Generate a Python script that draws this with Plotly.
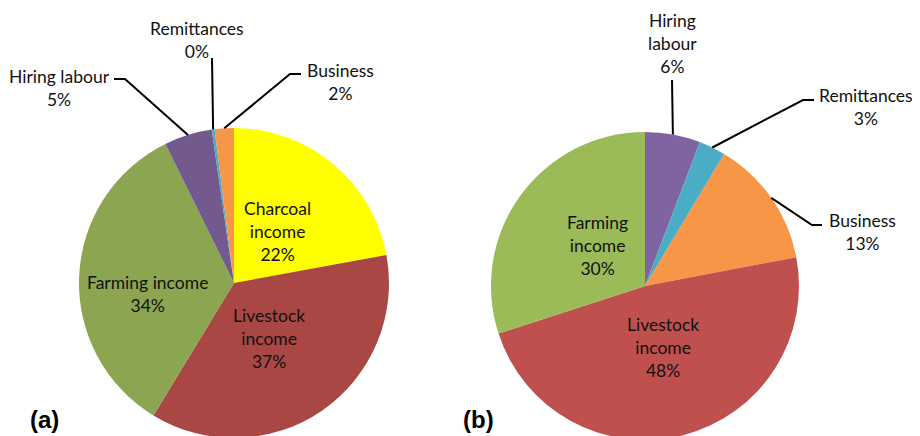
import math
import plotly.graph_objects as go

# ---------------- data ----------------
cats_a = ["Charcoal income", "Livestock income", "Farming income",
          "Hiring labour", "Remittances", "Business"]
vals_a = [22.1, 36.6, 34.0, 5.0, 0.3, 2.0]
colors_a = ["#FFFF00", "#A94744", "#8BA550", "#725A8E", "#4AACC6", "#F79646"]

cats_b = ["Hiring labour", "Remittances", "Business",
          "Livestock income", "Farming income"]
vals_b = [5.8, 2.8, 13.4, 48.0, 30.0]
colors_b = ["#8064A2", "#4BACC6", "#F79646", "#C0504D", "#9BBB59"]

# ---------------- layout constants (pixels, page coords) ----------------
W, H = 920, 436
OFF = 8  # default page body margin
FONT = "Lato, Carlito, Calibri, sans-serif"
FS = 17.5

# pie geometry: (center x, center y from top, radius)
pie_a = (234, 283, 155)
pie_b = (645, 286, 154)

# label placement: display text (line breaks), text-center position
lab_a = {
    "Charcoal income": ("Charcoal<br>income", 277, 231),
    "Livestock income": ("Livestock<br>income", 269, 338),
    "Farming income": ("Farming income", 147, 294),
    "Hiring labour": ("Hiring labour", 59, 88),
    "Remittances": ("Remittances", 197, 40),
    "Business": ("Business", 340, 82),
}
lab_b = {
    "Hiring labour": ("Hiring<br>labour", 672, 44),
    "Remittances": ("Remittances", 866, 107),
    "Business": ("Business", 862, 232),
    "Livestock income": ("Livestock<br>income", 663, 347),
    "Farming income": ("Farming<br>income", 597, 245),
}
# leader lines: text-side start point, elbow point (None = straight)
lead_a = {
    "Hiring labour": ((114, 79), (125, 79)),
    "Remittances": ((212, 58), None),
    "Business": ((301, 74), (290, 74)),
}
lead_b = {
    "Hiring labour": ((672, 80), None),
    "Remittances": ((814, 100), (803, 100)),
    "Business": ((822, 225), (812, 225)),
}


def px(x, y):
    return (x - OFF) / W, 1 - (y - OFF) / H


def domain(pie):
    cx, cy, r = pie
    cx -= OFF
    yb = H - (cy - OFF)
    x0, x1 = (cx - r) / W, (cx + r) / W
    y0 = max(0.0, (yb - r) / H)
    y1 = min(1.0, (yb + r) / H)
    return dict(x=[x0, x1], y=[y0, y1])


def edge_point(pie, vals, idx):
    cx, cy, r = pie
    tot = sum(vals)
    start = sum(vals[:idx])
    mid = (start + vals[idx] / 2) / tot * 2 * math.pi
    return cx + r * math.sin(mid), cy - r * math.cos(mid)


fig = go.Figure()
for cats, vals, cols, pie in [(cats_a, vals_a, colors_a, pie_a),
                              (cats_b, vals_b, colors_b, pie_b)]:
    fig.add_trace(go.Pie(
        labels=cats, values=vals, sort=False, direction="clockwise",
        rotation=0, textinfo="none", hoverinfo="label+percent",
        marker=dict(colors=cols, line=dict(width=0)),
        domain=domain(pie), showlegend=False,
    ))

annotations = []
shapes = []
for cats, vals, pie, labs, leads in [(cats_a, vals_a, pie_a, lab_a, lead_a),
                                     (cats_b, vals_b, pie_b, lab_b, lead_b)]:
    tot = sum(vals)
    for i, c in enumerate(cats):
        txt, x, y = labs[c]
        pct = round(vals[i] / tot * 100)
        ax, ay = px(x, y)
        annotations.append(dict(
            x=ax, y=ay, xref="paper", yref="paper", showarrow=False,
            text=f"{txt}<br>{pct}%", align="center",
            font=dict(family=FONT, size=FS, color="#111111"),
            xanchor="center", yanchor="middle"))
        if c in leads:
            p0, elbow = leads[c]
            ex, ey = edge_point(pie, vals, i)
            pts = [p0] + ([elbow] if elbow else []) + [(ex, ey)]
            path = "M " + " L ".join(
                f"{px(a, b)[0]:.5f},{px(a, b)[1]:.5f}" for a, b in pts)
            shapes.append(dict(type="path", xref="paper", yref="paper",
                               path=path, line=dict(color="black", width=2)))

for t, x, y in [("(a)", 44, 419), ("(b)", 478, 419)]:
    ax, ay = px(x, y)
    annotations.append(dict(
        x=ax, y=ay, xref="paper", yref="paper", showarrow=False, text=f"<b>{t}</b>",
        font=dict(family="Liberation Sans, Arial, sans-serif", size=24, color="black"),
        xanchor="center", yanchor="middle"))

fig.update_layout(
    width=W, height=H, margin=dict(l=0, r=0, t=0, b=0),
    paper_bgcolor="white", plot_bgcolor="white",
    annotations=annotations, shapes=shapes,
)

fig.write_html("out.html")
